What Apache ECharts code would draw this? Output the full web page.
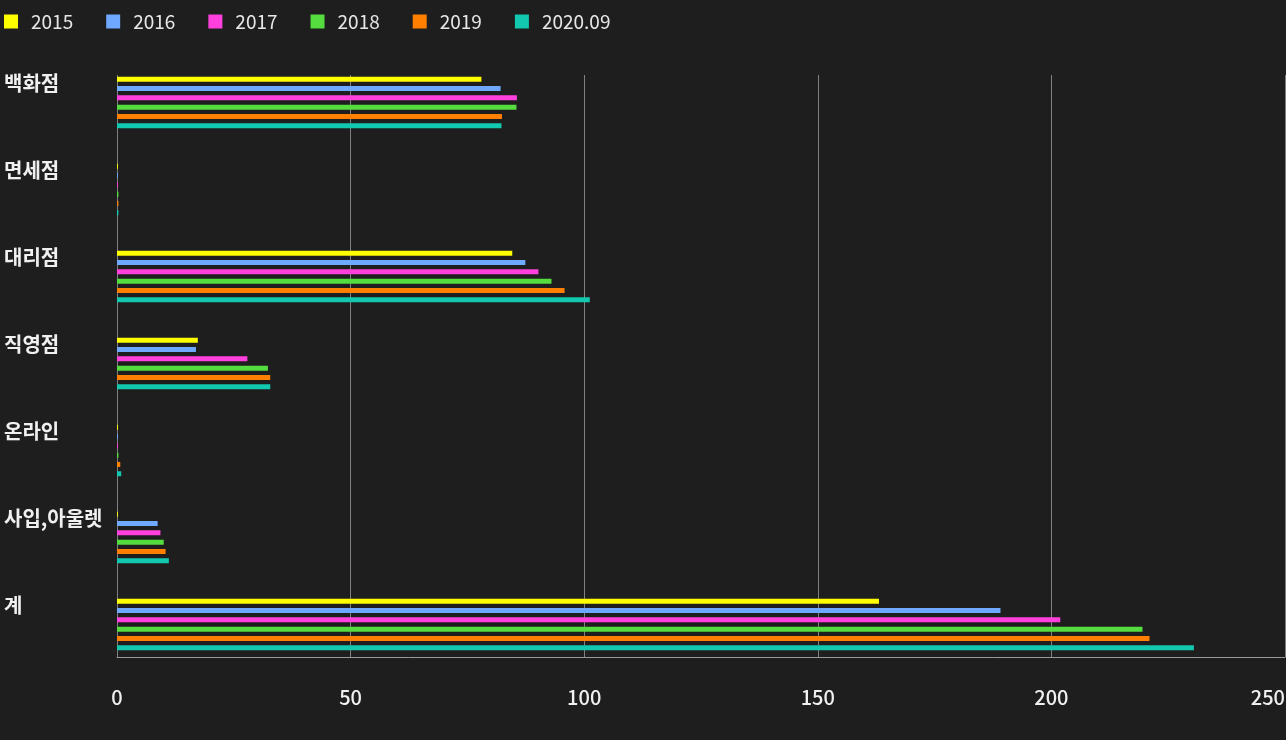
<!DOCTYPE html>
<html>
<head>
<meta charset="utf-8">
<script src="https://cdn.jsdelivr.net/npm/echarts@6/dist/echarts.min.js"></script>
<style>
  html, body { margin: 0; padding: 0; background: #1e1e1e; }
  #chart { width: 1286px; height: 740px; }
</style>
</head>
<body>
<div id="chart"></div>
<script>
// 채널별 매출 (연도별)
const categories = ['백화점', '면세점', '대리점', '직영점', '온라인', '사입,아울렛', '계'];
const years = ['2015', '2016', '2017', '2018', '2019', '2020.09'];
const colors = ['#ffff00', '#6ea8ff', '#ff40dc', '#55dd40', '#ff7f00', '#12c9b0'];

const v2015 = [78.0, 0.2, 84.6, 17.3, 0.2, 0.2, 163.1];
const v2016 = [82.1, 0.2, 87.4, 16.9, 0.2, 8.7, 189.1];
const v2017 = [85.6, 0.2, 90.2, 27.9, 0.2, 9.3, 201.9];
const v2018 = [85.5, 0.3, 93.0, 32.3, 0.3, 10.0, 219.5];
const v2019 = [82.4, 0.3, 95.8, 32.8, 0.7, 10.4, 221.0];
const v2020 = [82.3, 0.3, 101.2, 32.8, 0.9, 11.1, 230.5];
const xTicks = [0, 50, 100, 150, 200, 250];

const seriesValues = [v2015, v2016, v2017, v2018, v2019, v2020];

let chart = echarts.init(document.getElementById('chart'));
let option = {
  backgroundColor: '#1e1e1e',
  textStyle: { fontFamily: '"Noto Sans CJK KR", "Noto Sans", sans-serif' },
  legend: {
    left: 4,
    top: 12,
    padding: 0,
    icon: 'rect',
    itemWidth: 14,
    itemHeight: 14,
    itemGap: 33,
    textStyle: { color: '#e6e6e6', fontSize: 19, padding: [0, 0, 0, 8] },
    data: years
  },
  // grid 0: 눈금선/x축, grid 1: 막대
  grid: [
    { left: 117, right: 1, top: 75, bottom: 83, outerBoundsMode: 'none', containLabel: false },
    { left: 117, right: 1, top: 59, bottom: 72, outerBoundsMode: 'none', containLabel: false }
  ],
  xAxis: [
    {
      gridIndex: 0,
      type: 'value',
      min: xTicks[0],
      max: xTicks[xTicks.length - 1],
      interval: 50,
      axisLine: { show: true, lineStyle: { color: '#9a9a9a', width: 1 } },
      axisTick: { show: false },
      splitLine: { show: true, lineStyle: { color: '#808080', width: 1 } },
      axisLabel: { color: '#f0f0f0', fontSize: 20, fontWeight: 500, margin: 30, alignMaxLabel: 'right' }
    },
    {
      gridIndex: 1,
      type: 'value',
      min: xTicks[0],
      max: xTicks[xTicks.length - 1],
      show: false
    }
  ],
  yAxis: [
    {
      gridIndex: 0,
      type: 'category',
      inverse: true,
      data: categories,
      show: false
    },
    {
      gridIndex: 1,
      type: 'category',
      inverse: true,
      data: categories,
      axisLine: { show: false },
      axisTick: { show: false },
      axisLabel: {
        color: '#f0f0f0',
        fontSize: 20,
        fontWeight: 'bold',
        align: 'left',
        margin: 113,
        verticalAlign: 'bottom',
        lineHeight: 38
      }
    }
  ],
  series: []
};

years.forEach((y, i) => {
  option.series.push({
    name: y,
    type: 'bar',
    xAxisIndex: 1,
    yAxisIndex: 1,
    barWidth: 5,
    barGap: '86%',
    itemStyle: { color: colors[i] },
    data: seriesValues[i]
  });
});

option && chart.setOption(option);
</script>
</body>
</html>
